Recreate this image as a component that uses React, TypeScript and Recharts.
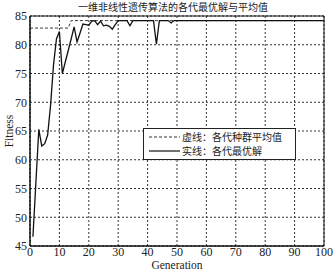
import React from "react"
import { LineChart, Line, XAxis, YAxis, CartesianGrid, Legend, ReferenceArea, Label } from "recharts"

const xTicks = [0, 10, 20, 30, 40, 50, 60, 70, 80, 90, 100]
const yTicks = [45, 50, 55, 60, 65, 70, 75, 80, 85]

// best fitness per generation (gen 0 has none)
const bestValues: (number | null)[] = [
  null,
  46.6, 56, 65.3, 62.4, 62.8, 64.3, 69.5, 76.5, 81, 82.3,
  75, 77, 79, 81, 83.1, 80.5, 82, 83.6, 83.5, 83.4,
  84.1, 84.2, 83.5, 84.1, 83.3, 83.4, 83.2, 82.7, 83.5, 84.2,
  84.2, 84.2, 84.2, 83.3, 84.2, 84.2, 84.2, 84.2, 84.2, 84.2,
  84.2, 84.2, 80.1, 84.2, 84.2, 84.2, 84.2, 83.8, 84.2, 84.2,
  84.2, 84.2, 84.2, 84.2, 84.2, 84.2, 84.2, 84.2, 84.2, 84.2,
  84.2, 84.2, 84.2, 84.2, 84.2, 84.2, 84.2, 84.2, 84.2, 84.2,
  84.2, 84.2, 84.2, 84.2, 84.2, 84.2, 84.2, 84.2, 84.2, 84.2,
  84.2, 84.2, 84.2, 84.2, 84.2, 84.2, 84.2, 84.2, 84.2, 84.2,
  84.2, 84.2, 84.2, 84.2, 84.2, 84.2, 84.2, 84.2, 84.2, 84.2,
]

// population average per generation
const avgValues: number[] = [
  82.9,
  82.9, 82.9, 82.9, 82.9, 82.9, 82.9, 82.9, 82.9, 82.9, 82.9,
  82.9, 82.9, 82.9, 84.2, 84.2, 84.2, 84.2, 84.2, 84.2, 84.2,
  84.2, 84.2, 84.2, 84.2, 84.2, 84.2, 84.2, 84.2, 84.2, 84.2,
  84.2, 84.2, 84.2, 84.2, 84.2, 84.2, 84.2, 84.2, 84.2, 84.2,
  84.2, 84.2, 84.2, 84.2, 84.2, 84.2, 84.2, 84.2, 84.2, 84.2,
  84.2, 84.2, 84.2, 84.2, 84.2, 84.2, 84.2, 84.2, 84.2, 84.2,
  84.2, 84.2, 84.2, 84.2, 84.2, 84.2, 84.2, 84.2, 84.2, 84.2,
  84.2, 84.2, 84.2, 84.2, 84.2, 84.2, 84.2, 84.2, 84.2, 84.2,
  84.2, 84.2, 84.2, 84.2, 84.2, 84.2, 84.2, 84.2, 84.2, 84.2,
  84.2, 84.2, 84.2, 84.2, 84.2, 84.2, 84.2, 84.2, 84.2, 84.2,
]

const legendItems = [
  { text: "虚线：各代种群平均值", dash: "3 2", color: "#333", width: 1 },
  { text: "实线：各代最优解", dash: undefined, color: "#111", width: 1.2 },
]

const data = avgValues.map((avg, gen) => ({ gen, avg, best: bestValues[gen] }))

const serif = '"Liberation Serif", "DejaVu Serif", serif'
const cjk = '"Noto Sans CJK SC", sans-serif'

const LegendBox = () => (
  <div style={{
    boxSizing: "border-box", width: 153, height: 32, border: "1.5px solid #222", background: "#fff",
    fontFamily: cjk, fontSize: 10, color: "#222",
    display: "flex", flexDirection: "column", justifyContent: "center",
  }}>
    {legendItems.map((item) => (
      <div key={item.text} style={{ display: "flex", alignItems: "center", height: 14.5 }}>
        <svg width={38} height={12} style={{ flex: "none" }}>
          <line x1={5} y1={6} x2={36} y2={6} stroke={item.color} strokeWidth={item.width} strokeDasharray={item.dash} />
        </svg>
        <span style={{ lineHeight: "14.5px", whiteSpace: "nowrap" }}>{item.text}</span>
      </div>
    ))}
  </div>
)

export default function App() {
  return (
    <div style={{ position: "absolute", left: 0, top: 0, width: 334, height: 274, background: "#fff" }}>
      <div style={{
        position: "absolute", left: 0, top: 1, width: 346, textAlign: "center",
        fontFamily: cjk, fontSize: 10, color: "#222", lineHeight: "12px",
      }}>
        一维非线性遗传算法的各代最优解与平均值
      </div>
      <LineChart width={334} height={274} data={data} margin={{ top: 16, right: 10, left: 0, bottom: 0 }}>
        <CartesianGrid stroke="#333" strokeDasharray="2 2" />
        <XAxis
          dataKey="gen"
          type="number"
          domain={[0, 100]}
          ticks={xTicks}
          height={28}
          axisLine={{ stroke: "#111" }}
          tickLine={false}
          tickSize={0}
          tickMargin={1}
          tick={{ fontFamily: serif, fontSize: 12, fill: "#222" }}
        >
          <Label
            content={() => (
              <text x={177} y={266} textAnchor="middle" dominantBaseline="middle"
                fontFamily={serif} fontSize={11.5} fill="#222">Generation</text>
            )}
          />
        </XAxis>
        <YAxis
          type="number"
          domain={[45, 85]}
          ticks={yTicks}
          width={30}
          axisLine={{ stroke: "#111" }}
          tickLine={false}
          tickSize={0}
          tickMargin={3}
          tick={{ fontFamily: serif, fontSize: 12, fill: "#222" }}
        >
          <Label
            content={() => (
              <text x={10} y={131} transform="rotate(-90 10 131)" textAnchor="middle" dominantBaseline="middle"
                fontFamily={serif} fontSize={11.5} fill="#222">Fitness</text>
            )}
          />
        </YAxis>
        <ReferenceArea x1={0} x2={100} y1={45} y2={85} fill="none" stroke="#111" strokeWidth={1} ifOverflow="visible" />
        <Line dataKey="avg" stroke="#333" strokeWidth={1} strokeDasharray="3 2" dot={false} isAnimationActive={false} />
        <Line dataKey="best" stroke="#111" strokeWidth={1.3} dot={false} isAnimationActive={false} />
        <Legend
          layout="vertical"
          align="center"
          verticalAlign="middle"
          content={<LegendBox />}
          wrapperStyle={{ left: 143, top: 128, width: 153, height: 32 }}
        />
      </LineChart>
    </div>
  )
}
